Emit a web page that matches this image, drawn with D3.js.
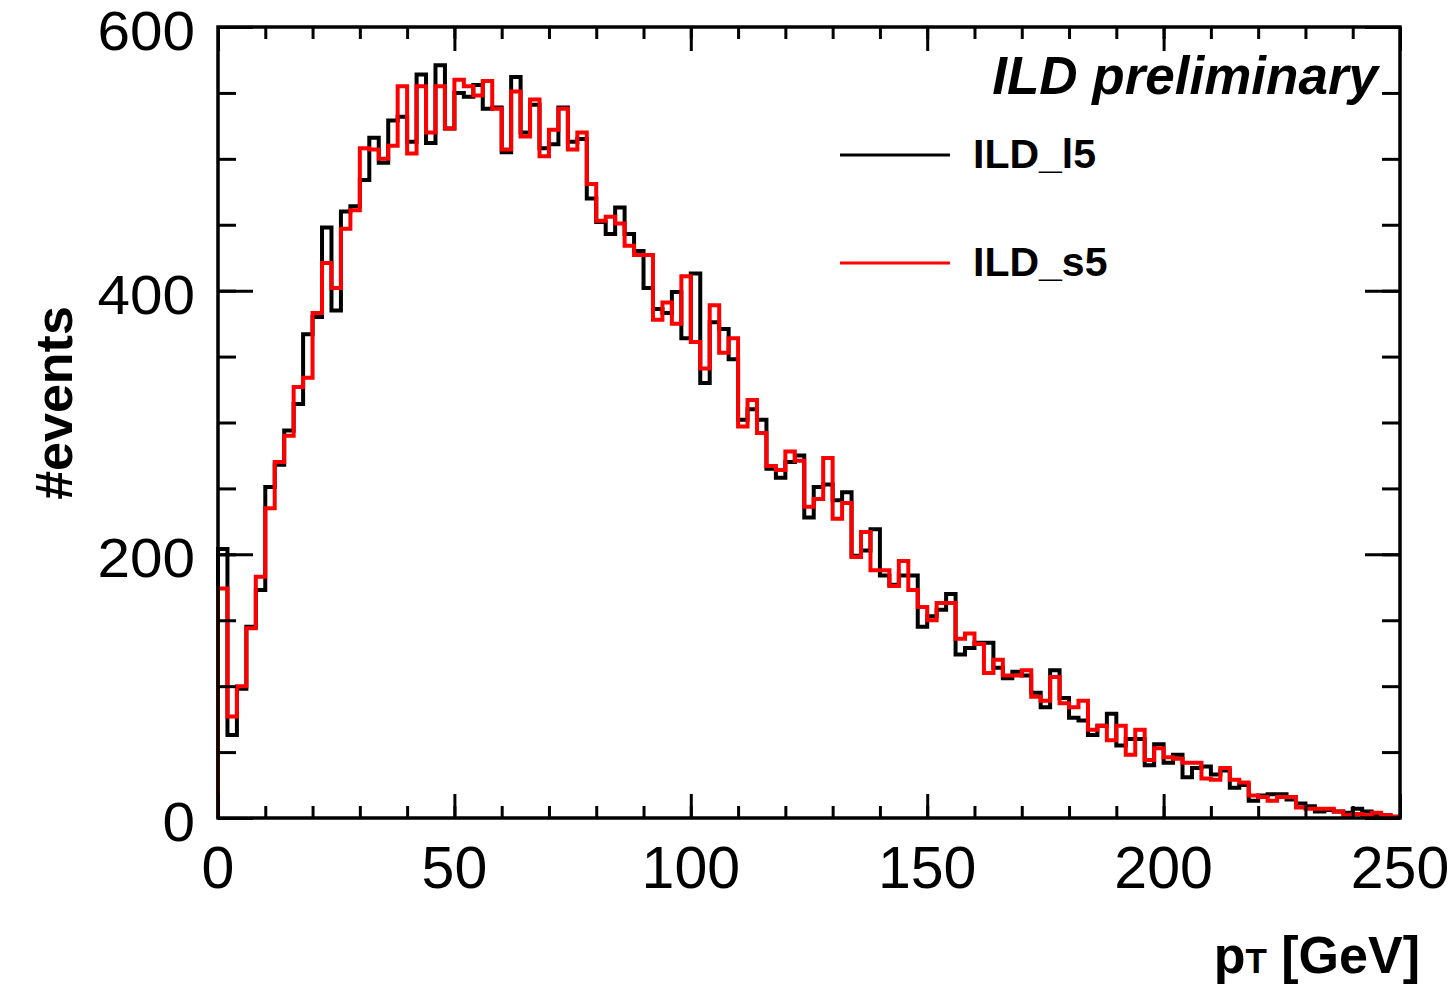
<!DOCTYPE html>
<html>
<head>
<meta charset="utf-8">
<script src="https://cdn.jsdelivr.net/npm/d3@7"></script>
<style>
  body { margin: 0; background: #fff; }
  svg { display: block; font-family: "Liberation Sans", Arial, Helvetica, sans-serif; }
</style>
</head>
<body>
<svg id="chart" width="1456" height="985"></svg>
<script>
// histogram: 125 bins of 2 GeV, 0 - 250 GeV
let binWidth = 2;
let xTicks = [0, 50, 100, 150, 200, 250];
let yTicks = [0, 200, 400, 600];

let seriesNames = ["ILD_l5", "ILD_s5"];
let seriesColors = ["#000000", "#ff0000"];

let countsL5 = [
  204, 63, 98, 145, 173, 251, 268, 294, 314, 367,
  380, 448, 385, 460, 464, 484, 516, 497, 529, 532,
  513, 564, 512, 571, 523, 550, 547, 556, 538, 539,
  505, 562, 520, 541, 508, 511, 539, 513, 515, 470,
  452, 443, 463, 443, 430, 402, 386, 383, 399, 364,
  413, 330, 376, 371, 348, 302, 310, 302, 265, 258,
  270, 275, 228, 251, 253, 241, 247, 199, 203, 219,
  184, 177, 184, 184, 145, 153, 158, 170, 124, 129,
  133, 133, 114, 106, 111, 108, 95, 84, 112, 91,
  76, 74, 63, 70, 79, 55, 60, 60, 40, 56,
  42, 48, 31, 38, 39, 33, 36, 23, 25, 13,
  17, 18, 18, 14, 11, 9, 5, 6, 5, 4,
  7, 5, 2, 2, 1
];

let countsS5 = [
  174, 77, 100, 144, 183, 235, 270, 290, 327, 334,
  383, 421, 402, 447, 461, 508, 507, 500, 510, 555,
  504, 555, 520, 555, 523, 560, 555, 548, 559, 538,
  507, 551, 517, 545, 502, 522, 538, 507, 520, 481,
  453, 456, 451, 434, 427, 427, 378, 391, 375, 411,
  361, 341, 389, 353, 364, 297, 317, 292, 267, 264,
  278, 271, 236, 242, 273, 227, 239, 198, 217, 188,
  188, 176, 195, 173, 160, 150, 163, 163, 136, 140,
  132, 110, 120, 108, 108, 112, 92, 89, 107, 87,
  84, 89, 67, 70, 59, 70, 48, 67, 44, 53,
  46, 45, 42, 42, 30, 29, 38, 29, 27, 17,
  16, 13, 16, 16, 8, 7, 7, 7, 5, 2,
  3, 2, 4, 2, 1
];

let margin = { left: 218, right: 56, top: 27, bottom: 167 };
let width = 1456 - margin.left - margin.right;
let height = 985 - margin.top - margin.bottom;

let svg = d3.select("#chart");
let g = svg.append("g")
  .attr("transform", "translate(" + margin.left + "," + margin.top + ")");

let xScale = d3.scaleLinear().domain([0, 250]).range([0, width]);
let yScale = d3.scaleLinear().domain([0, 600]).range([height, 0]);

/**
 * Turns bin counts into step outline points
 */
function stepPoints(counts) {
  let pts = [[0, 0]];
  counts.forEach((c, i) => pts.push([i * binWidth, c]));
  let last = counts.length * binWidth;
  pts.push([last, counts[counts.length - 1]]);
  pts.push([last, 0]);
  return pts;
}

let stepLine = d3.line()
  .x(d => xScale(d[0]))
  .y(d => yScale(d[1]))
  .curve(d3.curveStepAfter);

// histograms, black first then red on top
[countsL5, countsS5].forEach((counts, i) => {
  g.append("path")
    .attr("d", stepLine(stepPoints(counts)))
    .attr("fill", "none")
    .attr("stroke", seriesColors[i])
    .attr("stroke-width", 4)
    .attr("stroke-linejoin", "miter");
});

// ticks on all four sides, pointing inward
let xMinor = d3.range(0, 251, 10);
let yMinor = d3.range(0, 601, 50);

function tickAxis(axis, ticks, size) {
  return axis.tickValues(ticks).tickSize(-size).tickFormat("");
}

let axes = [
  [d3.axisBottom(xScale), xMinor, 12, "translate(0," + height + ")"],
  [d3.axisBottom(xScale), xTicks, 24, "translate(0," + height + ")"],
  [d3.axisTop(xScale), xMinor, 12, "translate(0,0)"],
  [d3.axisTop(xScale), xTicks, 24, "translate(0,0)"],
  [d3.axisLeft(yScale), yMinor, 18, "translate(0,0)"],
  [d3.axisLeft(yScale), yTicks, 35, "translate(0,0)"],
  [d3.axisRight(yScale), yMinor, 18, "translate(" + width + ",0)"],
  [d3.axisRight(yScale), yTicks, 35, "translate(" + width + ",0)"]
];

axes.forEach(a => {
  let ax = g.append("g")
    .attr("transform", a[3])
    .call(tickAxis(a[0], a[1], a[2]));
  ax.select(".domain").remove();
  ax.selectAll("line").attr("stroke", "#000").attr("stroke-width", 3);
});

// frame
g.append("rect")
  .attr("x", 0).attr("y", 0)
  .attr("width", width).attr("height", height)
  .attr("fill", "none")
  .attr("stroke", "#000")
  .attr("stroke-width", 3.5);

// tick labels
g.selectAll(".xlab")
  .data(xTicks)
  .enter().append("text")
  .attr("x", d => xScale(d))
  .attr("y", height + 70)
  .attr("text-anchor", "middle")
  .style("font-size", "59px")
  .text(d => d);

g.selectAll(".ylab")
  .data(yTicks)
  .enter().append("text")
  .attr("x", -23)
  .attr("y", d => yScale(d) + 23)
  .attr("text-anchor", "end")
  .style("font-size", "55px")
  .attr("textLength", d => String(d).length * 32.5)
  .attr("lengthAdjust", "spacingAndGlyphs")
  .text(d => d);

// axis titles
svg.append("text")
  .attr("transform", "translate(72,403) rotate(-90)")
  .attr("text-anchor", "middle")
  .style("font-size", "52px")
  .style("font-weight", "bold")
  .text("#events");

let xTitle = svg.append("text")
  .attr("x", 1420)
  .attr("y", 973)
  .attr("text-anchor", "end")
  .style("font-size", "52px")
  .style("font-weight", "bold");
xTitle.append("tspan").text("p");
xTitle.append("tspan").style("font-size", "35px").text("T");
xTitle.append("tspan").text("  [GeV]");

// label
svg.append("text")
  .attr("x", 1378)
  .attr("y", 94)
  .attr("text-anchor", "end")
  .style("font-size", "53px")
  .style("font-weight", "bold")
  .style("font-style", "italic")
  .text("ILD preliminary");

// legend
let legendY = [155, 263];
seriesNames.forEach((name, i) => {
  svg.append("line")
    .attr("x1", 840).attr("x2", 950)
    .attr("y1", legendY[i]).attr("y2", legendY[i])
    .attr("stroke", seriesColors[i])
    .attr("stroke-width", 3);
  svg.append("text")
    .attr("x", 973)
    .attr("y", legendY[i] + 13)
    .style("font-size", "41px")
    .style("font-weight", "bold")
    .text(name);
});
</script>
</body>
</html>
